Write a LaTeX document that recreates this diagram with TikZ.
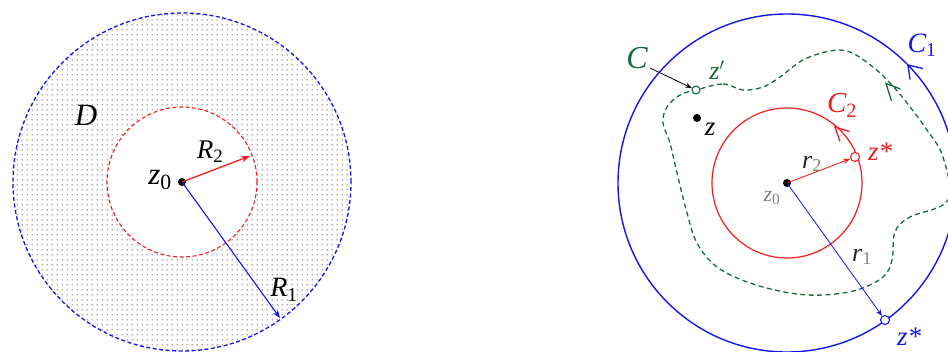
\documentclass[tikz,border=0pt]{standalone}
\usepackage{fontspec}
\setmainfont{Liberation Serif}
\usetikzlibrary{arrows.meta,patterns}
\pgfdeclarepatternformonly{griddots}{\pgfpointorigin}{\pgfpoint{5pt}{5pt}}{\pgfpoint{5pt}{5pt}}{\pgfpathcircle{\pgfpoint{2.5pt}{2.5pt}}{0.8pt}\pgfusepath{fill}}
\definecolor{cblue}{RGB}{20,20,235}
\definecolor{cred}{RGB}{240,30,30}
\definecolor{cgreen}{RGB}{25,105,60}
\newcommand{\lsub}[1]{\textsubscript{\upshape #1}}

\begin{document}
\begin{tikzpicture}[x=1pt,y=-1pt,>=Stealth,
 lbl/.style={inner sep=0pt,font=\fontsize{#1}{#1}\selectfont\itshape},
 dot/.style={circle,fill=black,inner sep=0pt,minimum size=8pt},
 hole/.style={circle,fill=white,inner sep=0pt,minimum size=9pt,line width=1.1pt},
 chev/.style={line width=1.3pt,line join=miter}]
\useasboundingbox (0,0) rectangle (948,351);
% left: the domain D between the two circles
\coordinate (o1) at (182,182);
\fill[pattern=griddots,pattern color=gray!70!black,even odd rule] (o1) circle[radius=169pt] (o1) circle[radius=75pt];
\draw[cblue,line width=1.3pt,dash pattern=on 4pt off 2.5pt] (o1) circle[radius=169pt];
\draw[cred,line width=1.1pt,dash pattern=on 4pt off 2.5pt] (o1) circle[radius=75pt];
\node[dot] (z0a) at (o1) {};
\coordinate (e2) at (250,156);
\coordinate (e1) at (280,318);
\draw[->,cred,line width=1.3pt] (z0a.center) -- (e2);
\draw[->,cblue,line width=1.1pt] (z0a.center) -- (e1);
\node[lbl=31] (D) at (86,115) {D};
\node[lbl=27] (R2) at (210,152) {R\lsub{2}};
\node[lbl=31] (z0l) at (160,180) {z\lsub{0}};
\node[lbl=28] (R1) at (284,290) {R\lsub{1}};
% right: contours C1, C2 and C
\coordinate (o2) at (787,183);
\draw[cblue,line width=1.4pt] (o2) circle[radius=169pt];
\draw[cred,line width=1.2pt] (o2) circle[radius=75pt];
\draw[cgreen,line width=1.3pt,dash pattern=on 5pt off 3.5pt] plot[smooth cycle,tension=0.6] coordinates {
 (696,90) (723,84) (743,90) (763,87) (780,77) (803,60) (830,51) (850,52) (873,67)
 (890,83) (907,103) (927,130) (943,157) (948,200) (910,217) (895,232) (892,260)
 (883,277) (857,290) (823,295) (790,293) (750,283) (717,267) (697,243) (687,213)
 (677,173) (670,143) (663,123) (667,107) (680,95)};
% direction marks
\draw[chev,cblue] (923,68.5) -- (908,65) -- (910,79.5);
\draw[chev,cred] (849.5,131.5) -- (835,127) -- (840,141.5);
\draw[chev,cgreen] (900.5,89) -- (886,83.5) -- (891.5,101);
\node[dot] (z0b) at (o2) {};
\node[hole,draw=cred] (zr) at (855,157) {};
\node[hole,draw=cblue] (zb) at (885,320) {};
\draw[->,cred,line width=0.9pt] (z0b.center) -- (zr);
\draw[->,cblue,line width=0.8pt] (z0b.center) -- (zb);
\node[hole,draw=cgreen,minimum size=8pt] (zp) at (696,90) {};
\node[dot,minimum size=8pt] (z) at (697,118) {};
\node[lbl=32,cgreen] (C) at (637,58) {C};
\draw[->,line width=0.8pt] (650,68) -- (zp);
\node[lbl=26,cgreen] (zpl) at (717,70) {z$'$};
\node[lbl=27] (zl) at (710,129) {z};
\node[lbl=29,cred] (C2) at (842,105) {C\lsub{2}};
\node[lbl=27,cred] (zrl) at (880,152) {z*};
\node[lbl=26,black!85] (r2) at (812,164) {r\textsubscript{\upshape\color{gray}2}};
\node[lbl=22,gray] (z0r) at (772,198) {z\lsub{0}};
\node[lbl=26,black!85] (r1) at (862,257) {r\textsubscript{\upshape\color{gray}1}};
\node[lbl=27,cblue] (zbl) at (909,337) {z*};
\node[lbl=28,cblue] (C1) at (922,45) {C\lsub{1}};
\end{tikzpicture}
\end{document}
